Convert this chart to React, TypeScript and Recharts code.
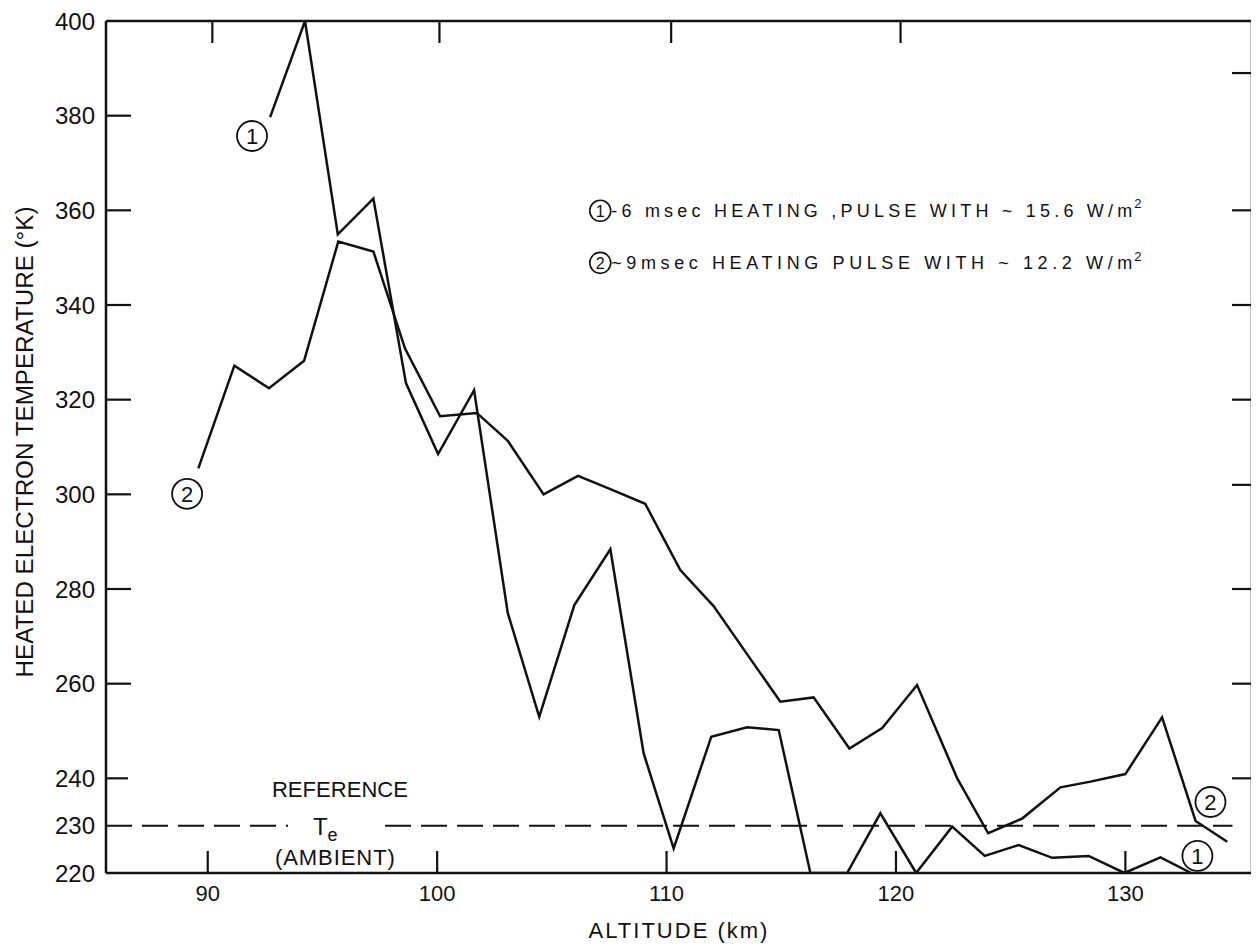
import React from 'react';
import { LineChart, Line, XAxis, YAxis, ReferenceLine, ReferenceDot, Label } from 'recharts';

// Curve 1: ~6 msec heating pulse with ~15.6 W/m^2
const altitude1 = [92.72, 94.24, 95.67, 97.22, 98.64, 100.04, 101.61, 103.08, 104.45, 105.98, 107.55, 109.0, 110.31, 111.95, 113.51, 114.89, 116.27, 117.87, 119.32, 120.88, 122.45, 123.87, 125.35, 126.81, 128.4, 129.96, 131.53, 132.87];
const temp1 = [379.7, 400, 354.9, 362.5, 323.5, 308.5, 322.0, 274.9, 253.0, 276.6, 288.4, 245.3, 225.2, 248.8, 250.8, 250.2, 220, 220, 232.6, 220, 229.8, 223.6, 225.9, 223.2, 223.6, 220, 223.3, 220];

// Curve 2: ~9 msec heating pulse with ~12.2 W/m^2
const altitude2 = [89.59, 91.16, 92.67, 94.2, 95.69, 97.22, 98.6, 100.13, 101.73, 103.08, 104.64, 106.14, 107.55, 109.07, 110.6, 112.05, 113.5, 114.96, 116.41, 117.97, 119.4, 120.92, 122.67, 124.02, 125.5, 127.17, 128.48, 130.0, 131.6, 133.06, 134.44];
const temp2 = [305.5, 327.2, 322.4, 328.2, 353.4, 351.3, 330.8, 316.5, 317.2, 311.3, 300.0, 303.9, 301.1, 298.0, 284.0, 276.4, 266.3, 256.2, 257.1, 246.3, 250.6, 259.7, 240.0, 228.4, 231.5, 238.1, 239.3, 240.9, 252.9, 231.0, 226.6];

const xTicks = [90, 100, 110, 120, 130];
const yTicks = [220, 230, 240, 260, 280, 300, 320, 340, 360, 380, 400];
const topTicks = [90.2, 100.1, 110.2, 120.2];
const rightTicks = [389, 360, 340, 320, 302, 280, 260, 240];
const xDomain = [85.565, 135.52];
const yDomain = [220, 400];
const referenceTe = 230;

const legend1 = '-6 msec HEATING ,PULSE  WITH ~ 15.6 W/m';
const legend2 = '~9msec HEATING PULSE  WITH ~ 12.2 W/m';
const xLabel = 'ALTITUDE  (km)';
const yLabel = 'HEATED ELECTRON TEMPERATURE (°K)';

const series1 = altitude1.map((a, i) => ({ alt: a, t: temp1[i] }));
const series2 = altitude2.map((a, i) => ({ alt: a, t: temp2[i] }));

const FONT = "'Liberation Sans', Arial, sans-serif";
const INK = '#111';

const BottomTick = (p: any) => {
  const { x, y, payload } = p;
  const axisY = y - 20;
  return (
    <g>
      <line x1={x} y1={axisY} x2={x} y2={axisY - 22} stroke={INK} strokeWidth={2.2} />
      <text x={x} y={y} dy="0.36em" textAnchor="middle" fontSize={22} fontFamily={FONT} fill={INK}>
        {payload.value}
      </text>
    </g>
  );
};

const LeftTick = (p: any) => {
  const { x, y, payload } = p;
  const v = payload.value;
  const ax = x + 11;
  const len = v === 240 ? 22 : 25;
  return (
    <g>
      {v !== 220 && v !== 400 && v !== 230 && (
        <line x1={ax} y1={y} x2={ax + len} y2={y} stroke={INK} strokeWidth={2.2} />
      )}
      <text x={x} y={y} dy="0.36em" textAnchor="end" fontSize={24} fontFamily={FONT} fill={INK}>
        {v}
      </text>
    </g>
  );
};

const TopTick = (p: any) => {
  const { x, y } = p;
  return <line x1={x} y1={y} x2={x} y2={y + 22} stroke={INK} strokeWidth={2.2} />;
};

const RightTick = (p: any) => {
  const { x, y } = p;
  return <line x1={x - 20} y1={y} x2={x} y2={y} stroke={INK} strokeWidth={2.2} />;
};

const circled = (n: string, r: number, fs: number) => (p: any) => (
  <g>
    <circle cx={p.cx} cy={p.cy} r={r} fill="none" stroke={INK} strokeWidth={1.8} />
    <text x={p.cx} y={p.cy} dy="0.36em" textAnchor="middle" fontSize={fs} fontFamily={FONT} fill={INK}>
      {n}
    </text>
  </g>
);

const legendRow = (n: string, label: string) => (p: any) => {
  const { cx, cy } = p;
  const start = cx + 11;
  const len = 521;
  return (
    <g>
      <circle cx={cx} cy={cy} r={10.5} fill="none" stroke={INK} strokeWidth={1.6} />
      <text x={cx} y={cy} dy="0.36em" textAnchor="middle" fontSize={16} fontFamily={FONT} fill={INK}>
        {n}
      </text>
      <text x={start} y={cy} dy="0.36em" fontSize={18} fontFamily={FONT} fill={INK} textLength={len} lengthAdjust="spacing">
        {label}
      </text>
      <text x={start + len + 2} y={cy - 7} dy="0.36em" fontSize={13} fontFamily={FONT} fill={INK}>
        2
      </text>
    </g>
  );
};

const refLabel = (p: any) => {
  const { cx, cy } = p;
  return (
    <g fontFamily={FONT} fill={INK}>
      <text x={cx + 6} y={cy - 38} dy="0.36em" textAnchor="middle" fontSize={22} textLength={136} lengthAdjust="spacing">
        REFERENCE
      </text>
      <text x={cx - 21} y={cy} dy="0.36em" fontSize={24}>
        T<tspan fontSize={18} dy={6}>e</tspan>
      </text>
      <text x={cx + 1} y={cy + 30} dy="0.36em" textAnchor="middle" fontSize={22} textLength={120} lengthAdjust="spacing">
        (AMBIENT)
      </text>
    </g>
  );
};

export default function App() {
  return (
    <div style={{ width: 1251, height: 944, background: '#fff' }}>
      <LineChart width={1251} height={944} margin={{ top: 12, right: 6, left: 0, bottom: 0 }}>
        <XAxis
          xAxisId="bottom"
          dataKey="alt"
          type="number"
          domain={xDomain}
          ticks={xTicks}
          interval={0}
          allowDataOverflow
          height={79}
          tickSize={0}
          tickMargin={20}
          tickLine={false}
          tick={BottomTick}
          axisLine={{ stroke: INK, strokeWidth: 2.5 }}
        >
          <Label
            value={xLabel}
            position="insideBottom"
            offset={14}
            style={{ fontFamily: FONT, fontSize: 22, fill: INK, letterSpacing: 2, whiteSpace: 'pre' }}
          />
        </XAxis>
        <XAxis
          xAxisId="top"
          orientation="top"
          dataKey="alt"
          type="number"
          domain={xDomain}
          ticks={topTicks}
          interval={0}
          allowDataOverflow
          height={1}
          tickSize={0}
          tickMargin={0}
          tickLine={false}
          tick={TopTick}
          axisLine={{ stroke: INK, strokeWidth: 2.5 }}
        />
        <YAxis
          yAxisId="left"
          type="number"
          domain={yDomain}
          ticks={yTicks}
          interval={0}
          allowDataOverflow
          width={98}
          tickSize={0}
          tickMargin={11}
          tickLine={false}
          tick={LeftTick}
          axisLine={{ stroke: INK, strokeWidth: 2.5 }}
        >
          <Label
            content={(props: any) => {
              const vb = props.viewBox || { x: 0, y: 13, width: 98, height: 852 };
              const cx = vb.x + 17;
              const cy = vb.y + vb.height / 2 - 5;
              return (
                <text
                  x={cx}
                  y={cy}
                  dy="0.36em"
                  textAnchor="middle"
                  transform={`rotate(-90 ${cx} ${cy})`}
                  fontSize={23}
                  fontFamily={FONT}
                  fill={INK}
                  textLength={471}
                  lengthAdjust="spacingAndGlyphs"
                >
                  {yLabel}
                </text>
              );
            }}
          />
        </YAxis>
        <YAxis
          yAxisId="right"
          orientation="right"
          type="number"
          domain={yDomain}
          ticks={rightTicks}
          interval={0}
          allowDataOverflow
          width={1}
          tickSize={0}
          tickMargin={0}
          tickLine={false}
          tick={RightTick}
          axisLine={{ stroke: INK, strokeWidth: 2.5 }}
        />

        <ReferenceLine
          xAxisId="bottom"
          yAxisId="left"
          segment={[{ x: 85.565, y: referenceTe }, { x: 93.5, y: referenceTe }]}
          stroke={INK}
          strokeWidth={2}
          strokeDasharray="26 10"
        />
        <ReferenceLine
          xAxisId="bottom"
          yAxisId="left"
          segment={[{ x: 97.73, y: referenceTe }, { x: 134.67, y: referenceTe }]}
          stroke={INK}
          strokeWidth={2}
          strokeDasharray="26 10"
        />

        <Line
          xAxisId="bottom"
          yAxisId="left"
          data={series1}
          dataKey="t"
          type="linear"
          stroke={INK}
          strokeWidth={2.5}
          dot={false}
          activeDot={false}
          isAnimationActive={false}
        />
        <Line
          xAxisId="bottom"
          yAxisId="left"
          data={series2}
          dataKey="t"
          type="linear"
          stroke={INK}
          strokeWidth={2.5}
          dot={false}
          activeDot={false}
          isAnimationActive={false}
        />

        <ReferenceDot xAxisId="bottom" yAxisId="left" x={91.93} y={375.7} r={15} shape={circled('1', 15, 22)} />
        <ReferenceDot xAxisId="bottom" yAxisId="left" x={89.1} y={300.1} r={15} shape={circled('2', 15, 22)} />
        <ReferenceDot xAxisId="bottom" yAxisId="left" x={133.71} y={235.0} r={15} shape={circled('2', 15, 22)} />
        <ReferenceDot xAxisId="bottom" yAxisId="left" x={133.14} y={223.6} r={15} shape={circled('1', 15, 22)} />
        <ReferenceDot xAxisId="bottom" yAxisId="left" x={107.11} y={359.9} r={10} shape={legendRow('1', legend1)} />
        <ReferenceDot xAxisId="bottom" yAxisId="left" x={107.11} y={348.9} r={10} shape={legendRow('2', legend2)} />
        <ReferenceDot xAxisId="bottom" yAxisId="left" x={95.5} y={229.8} r={1} shape={refLabel} />
      </LineChart>
    </div>
  );
}
